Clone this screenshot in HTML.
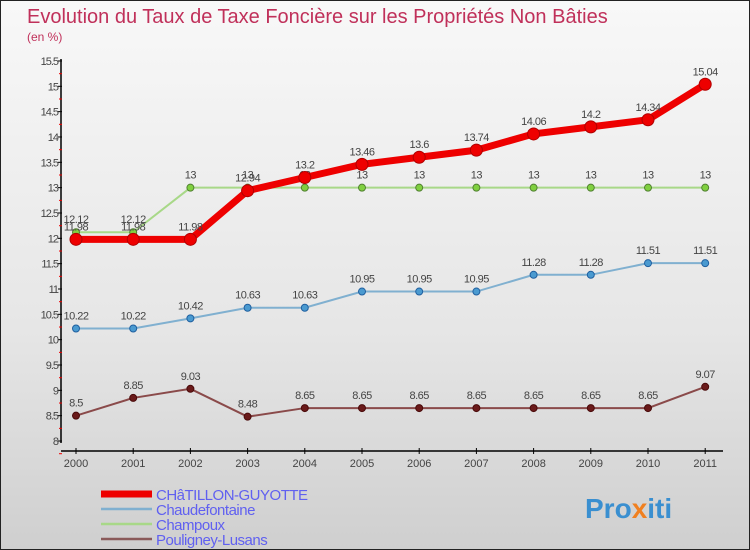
<!DOCTYPE html>
<html><head><meta charset="utf-8"><style>
body{margin:0}
#c{width:748px;height:548px;border:1px solid #222;background:linear-gradient(#f8f8f8,#e6e6e6 60%,#cfcfcf);position:relative;overflow:hidden;font-family:"Liberation Sans",sans-serif}
</style></head><body>
<div id="c">
<svg id="s" width="748" height="548">
<text x="26" y="22" font-size="20" fill="#c0305a">Evolution du Taux de Taxe Foncière sur les Propriétés Non Bâties</text>
<text x="26" y="40" font-size="12" fill="#c0305a">(en %)</text>
<g id="axes"></g><g id="series"></g>
<text x="584" y="517" font-size="28" font-weight="bold" fill="#3a8fd0">Pro<tspan fill="#f08020">x</tspan>iti</text>
</svg>
</div>
<script>
const years=[2000,2001,2002,2003,2004,2005,2006,2007,2008,2009,2010,2011];
const yTicks=[8,8.5,9,9.5,10,10.5,11,11.5,12,12.5,13,13.5,14,14.5,15,15.5];
const chatillon=[11.98,11.98,11.98,12.94,13.2,13.46,13.6,13.74,14.06,14.2,14.34,15.04];
const chaudefontaine=[10.22,10.22,10.42,10.63,10.63,10.95,10.95,10.95,11.28,11.28,11.51,11.51];
const champoux=[12.12,12.12,13,13,13,13,13,13,13,13,13,13];
const pouligney=[8.5,8.85,9.03,8.48,8.65,8.65,8.65,8.65,8.65,8.65,8.65,9.07];
const seriesNames=["CHâTILLON-GUYOTTE","Chaudefontaine","Champoux","Pouligney-Lusans"];
const NS="http://www.w3.org/2000/svg";
const xs=i=>75+i*57.2, ys=v=>440-(v-8)*50.67;
function mk(t,a,p){const e=document.createElementNS(NS,t);for(const k in a)e.setAttribute(k,a[k]);p.appendChild(e);return e;}
const ax=document.getElementById('axes'), sg=document.getElementById('series');
let yl=mk('line',{x1:60,y1:58,x2:60,y2:442,stroke:'#000','stroke-width':1.5},ax);


yTicks.forEach(v=>{const y=ys(v);
 mk('line',{x1:57,x2:61,y1:y,y2:y,stroke:'#000'},ax);
 mk('line',{x1:58,x2:61,y1:y+12.7,y2:y+12.7,stroke:'#e00'},ax);
 const t=mk('text',{x:57,y:y+4,'font-size':11,fill:'#444','text-anchor':'end','letter-spacing':'-1'},ax);t.textContent=v;
 
 });
let xl=mk('line',{x1:60,y1:450,x2:722,y2:450,stroke:'#000','stroke-width':1.5},ax);


years.forEach((yr,i)=>{const x=xs(i);
 mk('line',{x1:x,x2:x,y1:447,y2:453,stroke:'#000'},ax);
 const t=mk('text',{x:x,y:466,'font-size':11,fill:'#444','text-anchor':'middle'},ax);t.textContent=yr;
 
 });
const defs=[[champoux,'#a8d888','#80d040','#508030',2,3.5,'champoux'],[chaudefontaine,'#80b0d0','#4a9ad0','#2060a0',2,3.5,'chaudefontaine'],[pouligney,'#8a4a4a','#6a1a1a','#4a0a0a',2,3.5,'pouligney'],[chatillon,'#ee0000','#ee0000','#b00000',7,6,'chatillon']];
defs.forEach(([d,lc,fc,sc,w,r,n])=>{
 const p=mk('polyline',{points:d.map((v,i)=>xs(i)+','+ys(v)).join(' '),fill:'none',stroke:lc,'stroke-width':w},sg);
 
 
 d.forEach((v,i)=>{const c=mk('circle',{cx:xs(i),cy:ys(v),r:r,fill:fc,stroke:sc,'stroke-width':1},sg);
  
  
  const t=mk('text',{x:xs(i),y:ys(v)-9,'font-size':11,fill:'#444','text-anchor':'middle','letter-spacing':'-0.5'},sg);t.textContent=v;
  
  });
});
const legC=['#ee0000','#80b0d0','#a8d888','#8a5a5a'],legW=[7,2.5,2.5,2.5];
seriesNames.forEach((nm,i)=>{const y=493+i*15;
 const l=mk('line',{x1:100,x2:151,y1:y,y2:y,stroke:legC[i],'stroke-width':legW[i]},sg);
 
 
 const t=mk('text',{x:155,y:y+6,'font-size':15,fill:'#6060f0','letter-spacing':'-0.5'},sg);t.textContent=nm;
 
 });
</script>
</body></html>
